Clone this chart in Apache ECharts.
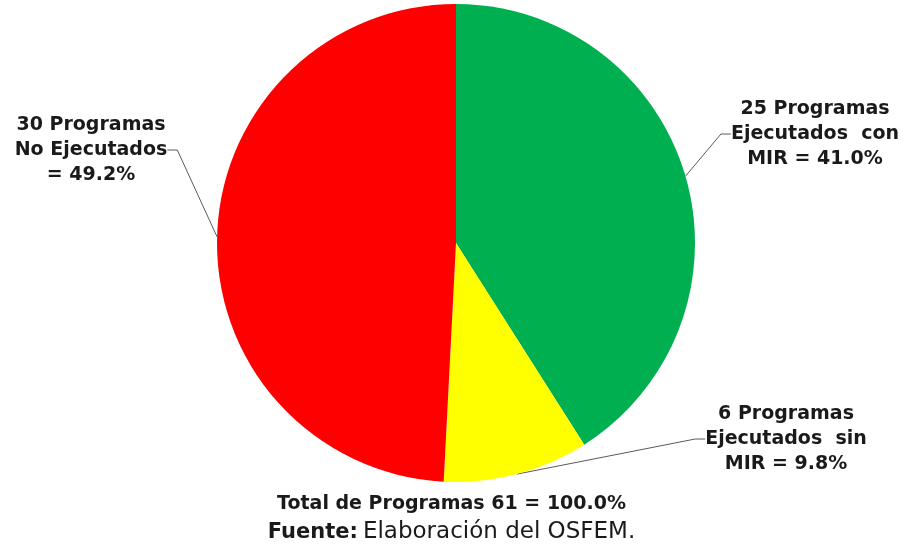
<!DOCTYPE html>
<html>
<head>
<meta charset="utf-8">
<script src="https://cdn.jsdelivr.net/npm/echarts@6/dist/echarts.min.js"></script>
<style>
  html, body { margin: 0; padding: 0; background: #fff; }
  #chart { width: 903px; height: 548px; }
</style>
</head>
<body>
<div id="chart"></div>
<script>
const names = ['Ejecutados con MIR', 'Ejecutados sin MIR', 'No Ejecutados']
const counts = [25, 6, 30]
const labels = [
  '25 Programas\nEjecutados  con\nMIR = 41.0%',
  '6 Programas\nEjecutados  sin\nMIR = 9.8%',
  '30 Programas\nNo Ejecutados\n= 49.2%',
]
const colors = ['#00b050', '#ffff00', '#ff0000']
const totalText = 'Total de Programas 61 = 100.0%'

// where each label block sits (centre of text)
const labelPos = [
  { x: 815, y: 134 },
  { x: 786, y: 439 },
  { x: 91, y: 150 },
]

const font = 'DejaVu Sans'
const chart = echarts.init(document.getElementById('chart'))

chart.setOption({
  animation: false,
  title: [
    {
      text: totalText,
      left: 'center',
      top: 490,
      textStyle: { fontFamily: font, fontSize: 19, fontWeight: 'bold', color: '#1a1a1a' },
    },
    {
      text: '{b|Fuente:} {n|Elaboración del OSFEM.}',
      left: 'center',
      top: 516,
      textStyle: {
        rich: {
          b: { fontFamily: font, fontSize: 21, fontWeight: 'bold', color: '#1a1a1a' },
          n: { fontFamily: font, fontSize: 23, fontWeight: 'normal', color: '#1a1a1a' },
        },
      },
    },
  ],
  series: [
    {
      type: 'pie',
      center: [456, 243],
      radius: 239,
      startAngle: 90,
      clockwise: true,
      data: counts.map((v, i) => ({
        name: names[i],
        value: v,
        itemStyle: { color: colors[i] },
        label: { formatter: labels[i] },
      })),
      label: {
        show: true,
        position: 'outside',
        fontFamily: font,
        fontSize: 19,
        fontWeight: 'bold',
        lineHeight: 25,
        color: '#1a1a1a',
        align: 'center',
      },
      labelLine: {
        show: true,
        length: 15,
        length2: 10,
        lineStyle: { color: '#5a5a5a', width: 1 },
      },
      labelLayout: (params) => {
        const p = labelPos[params.dataIndex]
        return { x: p.x, y: p.y, align: 'center', verticalAlign: 'middle' }
      },
      emphasis: { disabled: true },
    },
  ],
})
</script>
</body>
</html>
